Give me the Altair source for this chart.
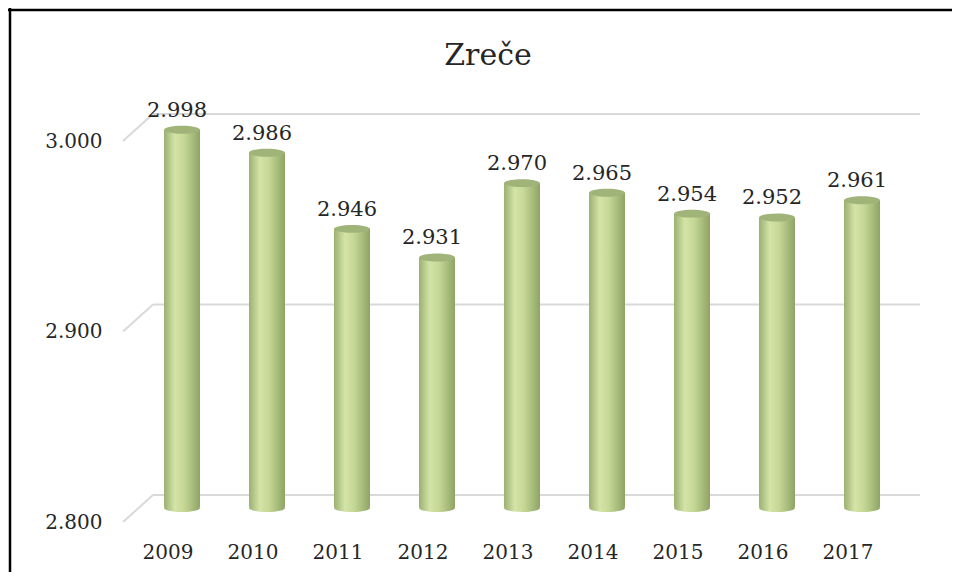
import altair as alt
import pandas as pd

years = ["2009", "2010", "2011", "2012", "2013", "2014", "2015", "2016", "2017"]
values = [2998, 2986, 2946, 2931, 2970, 2965, 2954, 2952, 2961]
labels = ["2.998", "2.986", "2.946", "2.931", "2.970", "2.965", "2.954", "2.952", "2.961"]
ticks = [2800, 2900, 3000]
chart_title = "Zreče"

W, H = 944, 564
FONT = "DejaVu Serif"

df = pd.DataFrame({"year": years, "value": values, "label": labels, "base": [2800] * len(years)})
tk = pd.DataFrame({"v": ticks})

yscale = alt.Scale(domain=[2800, 3000], range=[499, 118], zero=False, nice=False)
xscale = alt.Scale(domain=years, range=[117.5, 882.5], paddingInner=0, paddingOuter=0)

body_grad = alt.Gradient(
    gradient="linear", x1=0, x2=1, y1=0, y2=0,
    stops=[
        alt.GradientStop(offset=0, color="#9cb073"),
        alt.GradientStop(offset=0.3, color="#d3e4a6"),
        alt.GradientStop(offset=0.55, color="#c6d896"),
        alt.GradientStop(offset=1, color="#8ea465"),
    ],
)

ell = "M -1 0 A 1 0.22 0 1 1 1 0 A 1 0.22 0 1 1 -1 0 Z"

base = alt.Chart(df)

# back-wall gridlines
grid = alt.Chart(tk).mark_rule(color="#d9d9d9", strokeWidth=2, yOffset=-12, y2Offset=-12).encode(
    y=alt.Y("v:Q", scale=yscale, axis=alt.Axis(
        title=None, values=ticks, grid=False, domain=False, ticks=False,
        labelPadding=0, offset=-94, labelOffset=15, labelFont=FONT, labelFontSize=20,
        labelColor="#262626", labelAlign="right",
        labelExpr="replace(format(datum.value, ',.0f'), ',', '.')")),
    x=alt.value(145),
    x2=alt.value(912),
)

diag = alt.Chart(tk).mark_rule(color="#d9d9d9", strokeWidth=2, yOffset=15, y2Offset=-12).encode(
    y=alt.Y("v:Q", scale=yscale),
    y2="v:Q",
    x=alt.value(115),
    x2=alt.value(145),
)

bottom_ell = base.mark_point(shape=ell, filled=True, size=36 * 36, fill=body_grad, opacity=1, xOffset=14, yOffset=1).encode(
    x=alt.X("year:N", scale=xscale),
    y=alt.Y("base:Q", scale=yscale),
)

bars = base.mark_bar(size=36, fill=body_grad, xOffset=14).encode(
    x=alt.X("year:N", scale=xscale, axis=alt.Axis(
        title=None, domain=False, ticks=False, labelPadding=0, offset=-30, labelAngle=0,
        labelAlign="center", labelFont=FONT, labelFontSize=20, labelColor="#262626",
        labelBaseline="top")),
    y=alt.Y("value:Q", scale=yscale),
    y2="base:Q",
)

top_ell = base.mark_point(shape=ell, filled=True, size=36 * 36, color="#a0b479", opacity=1, xOffset=14).encode(
    x=alt.X("year:N", scale=xscale),
    y=alt.Y("value:Q", scale=yscale),
)

vlabels = base.mark_text(font=FONT, fontSize=21, color="#262626", baseline="alphabetic", dy=-13, xOffset=9).encode(
    x=alt.X("year:N", scale=xscale),
    y=alt.Y("value:Q", scale=yscale),
    text="label:N",
)

title = alt.Chart(pd.DataFrame({"t": [chart_title]})).mark_text(
    font=FONT, fontSize=30, color="#262626", baseline="alphabetic", align="center"
).encode(text="t:N", x=alt.value(480), y=alt.value(57))

frame_left = alt.Chart(pd.DataFrame({"a": [0]})).mark_rule(color="black", strokeWidth=2.5).encode(
    x=alt.value(2), y=alt.value(0), y2=alt.value(H))
frame_top = alt.Chart(pd.DataFrame({"a": [0]})).mark_rule(color="black", strokeWidth=2.5).encode(
    y=alt.value(2), x=alt.value(0), x2=alt.value(W))

chart = alt.layer(grid, diag, bottom_ell, bars, top_ell, vlabels, title, frame_left, frame_top).properties(
    width=W, height=H, autosize="none", padding=0
).configure(background="white", view=alt.ViewConfig(stroke="transparent", strokeWidth=0))

chart.save("out.html", embed_options={"renderer": "svg", "actions": False})
